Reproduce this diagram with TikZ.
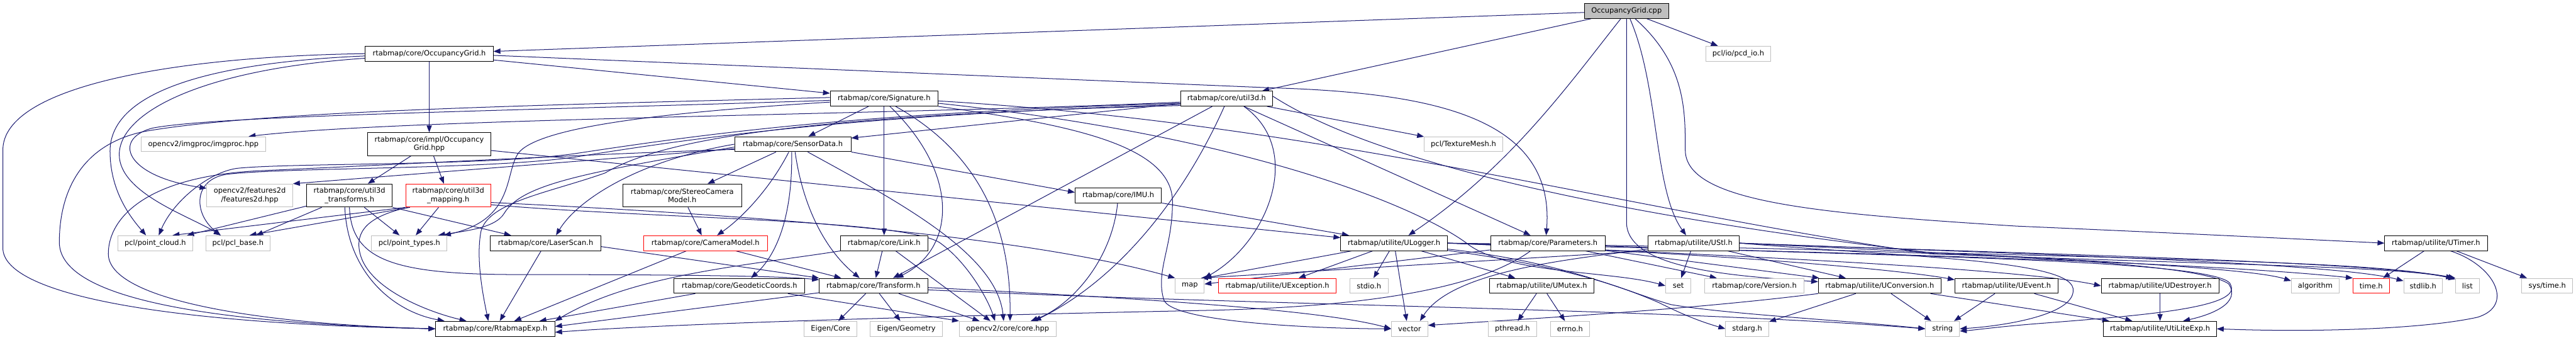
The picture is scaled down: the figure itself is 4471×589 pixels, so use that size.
\documentclass[tikz,border=0pt]{standalone}
\usepackage{fontspec}
\setmainfont{DejaVu Sans}
\usetikzlibrary{arrows.meta}
\definecolor{edgec}{HTML}{191970}
\definecolor{extc}{HTML}{BFBFBF}
\definecolor{rootc}{HTML}{BFBFBF}
\newcommand{\nf}{\fontsize{12.5}{14.7}\selectfont}
\pgfdeclarelayer{bg}
\pgfsetlayers{bg,main}
\begin{document}
\begin{tikzpicture}[x=1pt,y=-1pt,
 edg/.style={draw=edgec,line width=1.1pt,-{Triangle[length=12pt,width=9pt]}},
 base/.style={rectangle,inner sep=0pt,minimum height=26pt,line width=1pt,fill=white,font=\nf},
 doc/.style={base,draw=black},
 ext/.style={base,draw=extc},
 redn/.style={base,draw=red},
 rootn/.style={base,draw=black,fill=rootc},
 two/.style={minimum height=40pt,align=center}]
\useasboundingbox (0,0) rectangle (4471,589);
% row 0
\node[rootn,minimum width=146pt] (cpp) at (2823,19) {OccupancyGrid.cpp};
% row 1
\node[doc,minimum width=222pt] (ogh) at (745,93) {rtabmap/core/OccupancyGrid.h};
\node[ext,minimum width=112pt] (pcdio) at (3017,93) {pcl/io/pcd\_io.h};
% row 2
\node[doc,minimum width=187pt] (sig) at (1534.5,171) {rtabmap/core/Signature.h};
\node[doc,minimum width=160pt] (u3d) at (2129,171) {rtabmap/core/util3d.h};
% row 3
\node[ext,minimum width=216pt] (imgproc) at (353,250) {opencv2/imgproc/imgproc.hpp};
\node[doc,two,minimum width=214pt] (impl) at (745,250) {rtabmap/core/impl/Occupancy\\Grid.hpp};
\node[doc,minimum width=202pt] (sd) at (1376,250) {rtabmap/core/SensorData.h};
\node[ext,minimum width=136pt] (texmesh) at (2540,250) {pcl/TextureMesh.h};
% row 4
\node[ext,two,minimum width=149pt] (feat2d) at (433.5,339) {opencv2/features2d\\/features2d.hpp};
\node[doc,two,minimum width=149pt] (u3dt) at (606.5,339) {rtabmap/core/util3d\\\_transforms.h};
\node[redn,two,minimum width=148pt] (u3dm) at (778,339) {rtabmap/core/util3d\\\_mapping.h};
\node[doc,two,minimum width=206pt] (stereo) at (1184,339) {rtabmap/core/StereoCamera\\Model.h};
\node[doc,minimum width=150pt] (imu) at (1941,339) {rtabmap/core/IMU.h};
% row 5
\node[ext,minimum width=129pt] (pcloud) at (269.5,421.5) {pcl/point\_cloud.h};
\node[ext,minimum width=112pt] (pclbase) at (413,421.5) {pcl/pcl\_base.h};
\node[ext,minimum width=131pt] (ptypes) at (710.5,421.5) {pcl/point\_types.h};
\node[doc,minimum width=192pt] (laser) at (947,421.5) {rtabmap/core/LaserScan.h};
\node[redn,minimum width=215pt] (cam) at (1224.5,421.5) {rtabmap/core/CameraModel.h};
\node[doc,minimum width=151pt] (link) at (1534.5,421.5) {rtabmap/core/Link.h};
\node[doc,minimum width=185pt] (ulog) at (2419.5,421.5) {rtabmap/utilite/ULogger.h};
\node[doc,minimum width=199pt] (params) at (2686.5,421.5) {rtabmap/core/Parameters.h};
\node[doc,minimum width=159pt] (ustl) at (2939.5,421.5) {rtabmap/utilite/UStl.h};
\node[doc,minimum width=178pt] (utimer) at (4228,421.5) {rtabmap/utilite/UTimer.h};
% row 6
\node[doc,minimum width=227pt] (geo) at (1283.5,495.5) {rtabmap/core/GeodeticCoords.h};
\node[doc,minimum width=188pt] (tf) at (1516,495.5) {rtabmap/core/Transform.h};
\node[ext,minimum width=50pt] (map) at (2065,495.5) {map};
\node[redn,minimum width=204pt] (uexc) at (2217,495.5) {rtabmap/utilite/UException.h};
\node[ext,minimum width=66pt] (stdio) at (2376,495.5) {stdio.h};
\node[doc,minimum width=182pt] (umutex) at (2676,495.5) {rtabmap/utilite/UMutex.h};
\node[ext,minimum width=44pt] (set) at (2913,495.5) {set};
\node[ext,minimum width=172pt] (version) at (3045,495.5) {rtabmap/core/Version.h};
\node[doc,minimum width=213pt] (uconv) at (3262.5,495.5) {rtabmap/utilite/UConversion.h};
\node[doc,minimum width=179pt] (uevent) at (3482.5,495.5) {rtabmap/utilite/UEvent.h};
\node[doc,minimum width=204pt] (udestr) at (3749,495.5) {rtabmap/utilite/UDestroyer.h};
\node[ext,minimum width=83pt] (algorithm) at (4018.5,495.5) {algorithm};
\node[redn,minimum width=63pt] (timeh) at (4115.5,495.5) {time.h};
\node[ext,minimum width=67pt] (stdlib) at (4205.5,495.5) {stdlib.h};
\node[ext,minimum width=41pt] (list) at (4282.5,495.5) {list};
\node[ext,minimum width=88pt] (systime) at (4421,495.5) {sys/time.h};
% row 7
\node[doc,minimum width=207pt] (rexp) at (859.5,570) {rtabmap/core/RtabmapExp.h};
\node[ext,minimum width=91pt] (ecore) at (1441.5,570) {Eigen/Core};
\node[ext,minimum width=126pt] (egeo) at (1573,570) {Eigen/Geometry};
\node[ext,minimum width=168pt] (cvcore) at (1749,570) {opencv2/core/core.hpp};
\node[ext,minimum width=63pt] (vector) at (2446.5,570) {vector};
\node[ext,minimum width=84pt] (pthread) at (2625,570) {pthread.h};
\node[ext,minimum width=68pt] (errno) at (2725,570) {errno.h};
\node[ext,minimum width=75pt] (stdarg) at (3032.5,570) {stdarg.h};
\node[ext,minimum width=59pt] (string) at (3371.5,570) {string};
\node[doc,minimum width=196pt] (utexp) at (3749,570) {rtabmap/utilite/UtiLiteExp.h};

\begin{pgfonlayer}{bg}
\fill[white] (0,0) rectangle (4471,589);
% OccupancyGrid.cpp
\draw[edg] (cpp) -- (ogh);
\draw[edg] (cpp) -- (u3d);
\draw[edg] ([xshift=-10pt]cpp.south) .. controls (2720,150) and (2620,290) .. ([xshift=25pt]ulog.north);
\draw[edg] ([xshift=6pt]cpp.south) .. controls (2880,150) and (2870,330) .. ([xshift=-13pt]ustl.north);
\draw[edg] (cpp) -- (2823,385) .. controls (2823,465) and (3000,478) .. (uconv);
\draw[edg] ([xshift=15pt]cpp.south) .. controls (2925,110) and (2925,190) .. (2925,260) .. controls (2925,350) and (3150,370) .. (3500,392) .. controls (3800,405) and (4000,415) .. (utimer.west);
\draw[edg] (cpp) -- (pcdio);
% OccupancyGrid.h
\draw[edg] (ogh.west) .. controls (300,98) and (5,150) .. (5,260) -- (5,430) .. controls (5,505) and (250,560) .. (rexp.west);
\draw[edg] ([yshift=-4pt]ogh.west) .. controls (330,110) and (191,170) .. (191,262) .. controls (191,330) and (225,375) .. ([xshift=-16pt]pcloud.north);
\draw[edg] ([yshift=-8pt]ogh.west) .. controls (350,120) and (207,195) .. (207,268) .. controls (207,335) and (330,375) .. ([xshift=-30pt]pclbase.north);
\draw[edg] (ogh) -- (impl);
\draw[edg] (ogh) -- (sig);
\draw[edg] ([yshift=-3pt]ogh.east) -- (2200,152) .. controls (2480,160) and (2700,200) .. ([xshift=-3pt]params.north);
% impl
\draw[edg] (impl) -- (u3dt);
\draw[edg] (impl) -- (u3dm);
\draw[edg] (impl) -- (ulog);
% util3d_transforms
\draw[edg] (u3dt) -- (pcloud);
\draw[edg] (u3dt) -- (pclbase);
\draw[edg] (u3dt) -- (ptypes);
\draw[edg] (u3dt.south east) -- ([xshift=-60pt]laser.north);
\draw[edg] ([xshift=-8pt]u3dt.south) .. controls (603,470) and (680,540) .. ([xshift=-88pt]rexp.north);
\draw[edg] (u3dt.south) .. controls (610,450) and (680,476) .. (900,476) .. controls (1150,476) and (1350,478) .. ([yshift=-3pt]tf.north west);
% util3d_mapping
\draw[edg] (u3dm.south west) -- ([xshift=30pt]pcloud.north);
\draw[edg] ([xshift=8pt]u3dm.south west) -- ([xshift=20pt]pclbase.north);
\draw[edg] (u3dm) -- (ptypes);
\draw[edg] ([xshift=-70pt]u3dm.south) .. controls (640,375) and (615,400) .. (625,440) .. controls (640,500) and (740,540) .. ([xshift=-50pt]rexp.north);
\draw[edg] ([yshift=-12pt]u3dm.east) .. controls (1200,368) and (1750,400) .. (map.north west);
\draw[edg] ([yshift=-16pt]u3dm.east) .. controls (1150,380) and (1560,380) .. (1630,420) .. controls (1680,455) and (1715,520) .. ([xshift=-22pt]cvcore.north);
% Signature
\draw[edg] (sig) -- (sd);
\draw[edg] (sig) -- (link);
\draw[edg] ([xshift=10pt]sig.south) .. controls (1665,300) and (1660,430) .. ([xshift=40pt]tf.north);
\draw[edg] ([xshift=20pt]sig.south) .. controls (1690,260) and (1755,380) .. ([xshift=4pt]cvcore.north);
\draw[edg] ([yshift=2pt]sig.west) .. controls (900,183) and (450,193) .. (250,228) .. controls (135,252) and (103,340) .. (103,420) .. controls (103,505) and (300,558) .. (rexp.west);
\draw[edg] ([yshift=-3pt]sig.west) .. controls (900,192) and (380,200) .. (265,222) .. controls (195,240) and (215,305) .. ([yshift=-8pt]feat2d.north west);
\draw[edg] ([yshift=-6pt]sig.west) .. controls (1200,192) and (940,215) .. (900,265) .. controls (875,300) and (895,380) .. ([xshift=60pt]ptypes.north);
\draw[edg] (sig.south east) .. controls (1850,215) and (2035,250) .. (2035,350) .. controls (2035,430) and (2005,470) .. (2020,520) .. controls (2035,560) and (2300,570) .. (vector.west);
\draw[edg] ([yshift=-8pt]sig.east) .. controls (2200,240) and (2480,370) .. (2550,425) .. controls (2620,475) and (2800,470) .. (set.west);
\draw[edg] ([yshift=-4pt]sig.east) .. controls (2300,215) and (2800,360) .. (3350,440) .. controls (3900,460) and (4150,462) .. ([xshift=-4pt]list.north west);
% SensorData
\draw[edg] (sd) -- (stereo);
\draw[edg] (sd) .. controls (1335,330) and (1285,380) .. ([xshift=20pt]cam.north);
\draw[edg] ([xshift=-2pt]sd.south) .. controls (1376,380) and (1345,445) .. ([xshift=20pt]geo.north);
\draw[edg] ([xshift=4pt]sd.south) .. controls (1395,370) and (1440,440) .. ([xshift=-24pt]tf.north);
\draw[edg] (sd.south east) -- ([yshift=-8pt]imu.north west);
\draw[edg] ([xshift=26pt]sd.south) .. controls (1560,350) and (1730,440) .. ([xshift=-7pt]cvcore.north);
\draw[edg] (sd) -- (feat2d.north east);
\draw[edg] (sd.west) .. controls (1100,280) and (1000,350) .. ([xshift=18pt]laser.north);
\draw[edg] ([yshift=-5pt]sd.west) .. controls (1010,300) and (905,320) .. (875,370) .. controls (860,395) and (810,400) .. ([xshift=50pt]ptypes.north);
\draw[edg] ([yshift=-9pt]sd.west) .. controls (1000,268) and (700,285) .. (450,296) .. controls (250,306) and (188,380) .. (188,440) .. controls (188,520) and (450,562) .. (rexp.west);
% util3d
\draw[edg] (u3d) -- (sd);
\draw[edg] (u3d) -- ([xshift=34pt]tf.north);
\draw[edg] ([xshift=-4pt]u3d.south) .. controls (2060,330) and (1950,480) .. ([xshift=46pt]cvcore.north);
\draw[edg] ([xshift=30pt]u3d.south) .. controls (2265,260) and (2200,420) .. (map.north east);
\draw[edg] (u3d) -- (params);
\draw[edg] (u3d) -- (texmesh);
\draw[edg] ([yshift=4pt]u3d.east) .. controls (2400,290) and (2850,380) .. (3350,438) .. controls (3900,452) and (4150,458) .. ([yshift=-2pt]list.north west);
\draw[edg] ([yshift=-6pt]u3d.west) .. controls (1600,198) and (700,205) .. ([xshift=-30pt]imgproc.north east);
\draw[edg] ([yshift=-8pt]u3d.west) .. controls (1500,196) and (1250,228) .. (1000,266) .. controls (850,288) and (500,282) .. (410,292) .. controls (360,300) and (300,350) .. ([xshift=6pt]pcloud.north);
\draw[edg] ([yshift=-10pt]u3d.west) .. controls (1500,200) and (1250,232) .. (1000,272) .. controls (850,294) and (500,290) .. (395,302) .. controls (335,310) and (335,370) .. ([xshift=-30pt]pclbase.north);
\draw[edg] ([yshift=-12pt]u3d.west) .. controls (1400,200) and (1150,240) .. (1050,300) .. controls (950,335) and (850,350) .. (835,400) .. controls (825,450) and (840,520) .. ([xshift=-12pt]rexp.north);
% camera, laser, link, geo, transform, imu
\draw[edg] (stereo) -- (cam);
\draw[edg] (cam) -- (rexp);
\draw[edg] (cam) -- ([xshift=-56pt]tf.north);
\draw[edg] (laser) -- (rexp);
\draw[edg] ([yshift=-6pt]laser.east) -- (tf.north west);
\draw[edg] (link.south west) .. controls (1300,460) and (1100,475) .. (rexp.north east);
\draw[edg] (link) -- ([xshift=4pt]tf.north);
\draw[edg] ([xshift=20pt]link.south) -- ([xshift=-30pt]cvcore.north);
\draw[edg] (geo) -- (rexp);
\draw[edg] ([xshift=84pt]geo.south) -- (cvcore.north west);
\draw[edg] (tf) -- ([yshift=4pt]rexp.east);
\draw[edg] (tf) -- (ecore);
\draw[edg] (tf) -- (egeo);
\draw[edg] ([xshift=44pt]tf.south) -- ([xshift=-49pt]cvcore.north);
\draw[edg] ([yshift=-3pt]tf.east) .. controls (2000,518) and (2300,538) .. (vector.west);
\draw[edg] ([yshift=-7pt]tf.east) .. controls (2200,530) and (2900,535) .. (string.west);
\draw[edg] (imu) .. controls (1930,450) and (1860,530) .. ([xshift=40pt]cvcore.north);
\draw[edg] (imu) -- (ulog);
% Parameters
\draw[edg] (params) -- (map);
\draw[edg] ([xshift=-30pt]params.south) .. controls (2560,505) and (2350,532) .. (2100,538) .. controls (1600,548) and (1150,562) .. ([yshift=-6pt]rexp.east);
\draw[edg] (params) -- (version);
\draw[edg] (params) -- (uconv);
\draw[edg] ([yshift=-5pt]params.east) .. controls (3300,445) and (3870,450) .. (3872,495) .. controls (3890,535) and (3700,548) .. (3550,560) .. controls (3470,566) and (3430,572) .. ([yshift=-4pt]string.east);
% ULogger
\draw[edg] (ulog) -- (uexc);
\draw[edg] (ulog) -- (stdio);
\draw[edg] (ulog) -- ([xshift=-5pt]vector.north);
\draw[edg] (ulog) -- ([xshift=-46pt]umutex.north);
\draw[edg] (ulog) -- (map.north east);
\draw[edg] (ulog.east) .. controls (3000,440) and (3300,468) .. ([yshift=-3pt]uevent.north west);
\draw[edg] (ulog.east) .. controls (3000,442) and (3500,465) .. (udestr.west);
\draw[edg] (ulog.east) .. controls (3100,435) and (3800,452) .. (timeh.north west);
\draw[edg] (ulog.east) .. controls (3200,430) and (3800,445) .. (3868,492) .. controls (3890,525) and (3840,545) .. ([xshift=40pt]utexp.north);
\draw[edg] (ulog) .. controls (2700,460) and (2800,490) .. (2880,525) .. controls (2930,550) and (2960,560) .. (stdarg.west);
\draw[edg] (ulog) .. controls (2720,455) and (2820,505) .. (2900,528) .. controls (3000,545) and (3200,555) .. (string.west);
% UMutex
\draw[edg] (umutex) -- (pthread);
\draw[edg] (umutex) -- (errno);
% UStl
\draw[edg] (ustl) -- (set);
\draw[edg] (ustl.south west) -- ([xshift=-6pt]map.north east);
\draw[edg] (ustl) .. controls (2720,450) and (2520,470) .. ([xshift=18pt]vector.north);
\draw[edg] (ustl.east) .. controls (3300,445) and (3590,450) .. (3598,500) .. controls (3605,545) and (3480,565) .. (string.east);
\draw[edg] (ustl.east) .. controls (3500,440) and (4100,452) .. (list.north west);
\draw[edg] (ustl.east) .. controls (3500,445) and (3900,462) .. ([yshift=-5pt]algorithm.north west);
\draw[edg] (ustl.east) .. controls (3500,440) and (4050,455) .. ([yshift=-5pt]stdlib.north west);
\draw[edg] (ustl) -- (uconv);
% UConversion, UEvent, UDestroyer, UTimer
\draw[edg] (uconv) -- (stdarg);
\draw[edg] (uconv) -- (string);
\draw[edg] (uconv) .. controls (2950,535) and (2700,550) .. ([yshift=6pt]vector.east);
\draw[edg] (uconv) -- (utexp);
\draw[edg] (uevent) -- (string);
\draw[edg] (uevent) -- (utexp);
\draw[edg] (udestr) -- (utexp);
\draw[edg] (utimer) -- (timeh);
\draw[edg] (utimer) -- (systime);
\draw[edg] ([xshift=25pt]utimer.south) .. controls (4330,460) and (4365,530) .. (4300,550) .. controls (4200,572) and (4000,576) .. (utexp.east);
\end{pgfonlayer}
\end{tikzpicture}
\end{document}
